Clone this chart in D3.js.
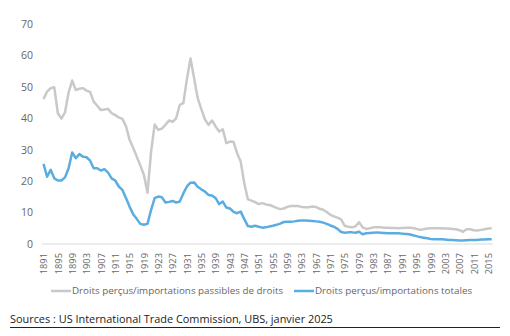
<!DOCTYPE html>
<html>
<head>
<meta charset="utf-8">
<script src="https://cdn.jsdelivr.net/npm/d3@7"></script>
<style>
  body { margin: 0; background: #fff; }
  svg text { font-family: "Open Sans", "Noto Sans", sans-serif; }
</style>
</head>
<body>
<div id="chart"></div>
<script>
// droits perçus, en % des importations - 1891 à 2016
var firstYear = 1891;
var dutiable = [
  46.1, 48.5, 49.6, 49.9, 41.6, 39.9, 41.9, 48.2, 52.0, 49.0,
  49.4, 49.6, 48.8, 48.4, 45.3, 44.0, 42.6, 42.8, 43.0, 41.6,
  41.0, 40.3, 39.8, 37.5, 33.2, 30.6, 27.8, 25.0, 22.0, 16.3,
  29.3, 38.0, 36.3, 36.7, 37.9, 39.3, 38.9, 40.0, 44.3, 44.8,
  52.5, 59.0, 52.8, 46.4, 43.0, 39.7, 37.9, 39.3, 37.4, 35.8,
  36.5, 32.1, 32.6, 32.5, 28.9, 26.2, 19.3, 14.2, 13.8, 13.3,
  12.7, 13.0, 12.6, 12.4, 12.0, 11.5, 11.1, 11.3, 11.8, 12.1,
  12.1, 12.1, 11.8, 11.7, 11.7, 11.9, 11.8, 11.2, 10.9, 10.2,
  9.3, 8.8, 8.4, 7.8, 5.8, 5.5, 5.3, 5.6, 6.9, 5.3,
  4.8, 5.0, 5.3, 5.3, 5.3, 5.2, 5.2, 5.1, 5.1, 5.0,
  5.1, 5.2, 5.2, 5.1, 4.8, 4.5, 4.7, 4.9, 5.0, 5.0,
  5.0, 5.0, 4.9, 4.9, 4.8, 4.7, 4.4, 3.9, 4.7, 4.7,
  4.4, 4.3, 4.5, 4.7, 4.9, 5.0
];
var total = [
  25.5, 21.4, 23.6, 20.9, 20.2, 20.2, 21.2, 24.1, 29.1, 27.3,
  28.6, 27.8, 27.6, 26.5, 24.1, 24.1, 23.4, 23.8, 22.7, 20.9,
  20.2, 18.3, 17.2, 14.6, 11.9, 9.5, 8.0, 6.4, 6.1, 6.4,
  10.8, 14.6, 15.1, 14.9, 13.2, 13.4, 13.7, 13.2, 13.5, 16.1,
  18.3, 19.5, 19.6, 18.2, 17.4, 16.7, 15.6, 15.4, 14.6, 12.7,
  13.5, 11.6, 11.3, 10.2, 9.8, 10.3, 7.9, 5.7, 5.5, 5.8,
  5.5, 5.2, 5.3, 5.6, 5.8, 6.1, 6.5, 7.0, 7.1, 7.1,
  7.2, 7.4, 7.5, 7.5, 7.4, 7.3, 7.2, 7.1, 6.8, 6.4,
  5.9, 5.5, 4.8, 3.8, 3.6, 3.7, 3.7, 3.6, 3.9, 3.1,
  3.4, 3.5, 3.6, 3.7, 3.6, 3.5, 3.4, 3.4, 3.4, 3.4,
  3.3, 3.2, 3.1, 2.8, 2.5, 2.2, 2.0, 1.8, 1.6, 1.5,
  1.5, 1.5, 1.4, 1.3, 1.3, 1.2, 1.1, 1.1, 1.2, 1.3,
  1.3, 1.3, 1.4, 1.4, 1.5, 1.5
];
var years = dutiable.map(function(d, i){ return firstYear + i; });
var yearTicks = d3.range(1891, 2016, 4);
var valueTicks = d3.range(0, 71, 10);
var seriesNames = [
  "Droits perçus/importations passibles de droits",
  "Droits perçus/importations totales"
];
var seriesColors = ["#c9c9c9", "#5aade0"];
var sourceText = "Sources : US International Trade Commission, UBS, janvier 2025";

var WIDTH = 510, HEIGHT = 336;

var svg = d3.select("#chart")
  .append("svg")
    .attr("width", WIDTH)
    .attr("height", HEIGHT);

var x = d3.scaleLinear()
  .domain([1891, 2016])
  .range([43.5, 491.7]);

var y = d3.scaleLinear()
  .domain([0, 70])
  .range([244, 24]);

// axe des valeurs, sans ligne
var yAxis = svg.append("g")
  .attr("transform", "translate(33,0)")
  .call(d3.axisLeft(y).tickValues(valueTicks).tickSize(0).tickPadding(0));
yAxis.select(".domain").remove();
yAxis.selectAll("text")
  .attr("fill", "#666")
  .style("font-size", "10.5px");

// axe des années, libellés verticaux
var xAxis = svg.append("g")
  .attr("transform", "translate(0,244)")
  .call(d3.axisBottom(x).tickValues(yearTicks).tickFormat(d3.format("d")).tickSize(0).tickSizeOuter(0));
xAxis.select(".domain").remove();
xAxis.append("line")
  .attr("x1", 42).attr("x2", 493)
  .attr("stroke", "#d9d9d9").attr("stroke-width", 1);
xAxis.selectAll(".tick text")
  .attr("fill", "#666")
  .style("font-size", "9.3px")
  .attr("text-anchor", "end")
  .attr("transform", "rotate(-90)")
  .attr("x", -9)
  .attr("y", 0)
  .attr("dy", "0.35em");

var line = d3.line()
  .x(function(d, i){ return x(years[i]); })
  .y(function(d){ return y(d); });

svg.selectAll("path.serie")
  .data([dutiable, total])
  .enter()
    .append("path")
      .attr("class", "serie")
      .attr("d", line)
      .attr("fill", "none")
      .attr("stroke", function(d, i){ return seriesColors[i]; })
      .attr("stroke-width", 2.5)
      .attr("stroke-linejoin", "round");

// légende
var legendX = [51, 294];
var legend = svg.selectAll("g.legend")
  .data(seriesNames)
  .enter()
    .append("g")
      .attr("class", "legend")
      .attr("transform", function(d, i){ return "translate(" + legendX[i] + ",291)"; });
legend.append("line")
  .attr("x1", 0).attr("x2", 20)
  .attr("stroke", function(d, i){ return seriesColors[i]; })
  .attr("stroke-width", 2.5);
legend.append("text")
  .attr("x", 21)
  .attr("dy", "0.35em")
  .attr("fill", "#666")
  .style("font-size", "9.8px")
  .text(function(d){ return d; });

// source
svg.append("text")
  .attr("x", 10)
  .attr("y", 323)
  .attr("fill", "#222")
  .style("font-size", "10.9px")
  .text(sourceText);
svg.append("line")
  .attr("x1", 10).attr("x2", 500)
  .attr("y1", 327.5).attr("y2", 327.5)
  .attr("stroke", "#222").attr("stroke-width", 1);
</script>
</body>
</html>
